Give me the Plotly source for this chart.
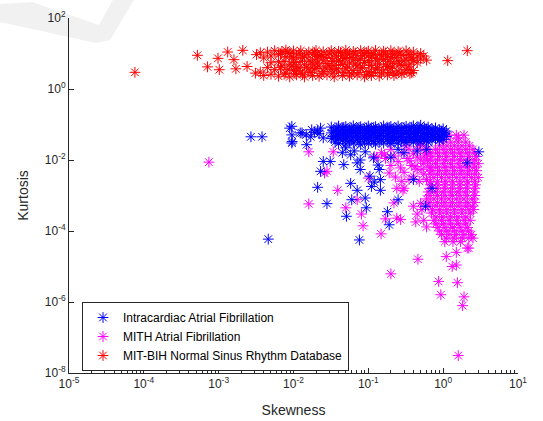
import plotly.graph_objects as go

# ---------------- data ----------------
# Intracardiac Atrial Fibrillation (blue)
intra_skew = [
    # main band
    0.032, 0.032, 0.032, 0.036, 0.036, 0.036, 0.040, 0.040, 0.040, 0.040,
    0.045, 0.045, 0.045, 0.050, 0.050, 0.050, 0.050, 0.056, 0.056, 0.056,
    0.063, 0.063, 0.063, 0.063, 0.071, 0.071, 0.071, 0.079, 0.079, 0.079, 0.079,
    0.089, 0.089, 0.089, 0.10, 0.10, 0.10, 0.10, 0.11, 0.11, 0.11,
    0.125, 0.125, 0.125, 0.125, 0.14, 0.14, 0.14, 0.16, 0.16, 0.16, 0.16,
    0.18, 0.18, 0.18, 0.20, 0.20, 0.20, 0.20, 0.22, 0.22, 0.22,
    0.25, 0.25, 0.25, 0.25, 0.28, 0.28, 0.28, 0.32, 0.32, 0.32, 0.32,
    0.36, 0.36, 0.36, 0.40, 0.40, 0.40, 0.40, 0.45, 0.45, 0.45,
    0.50, 0.50, 0.50, 0.50, 0.56, 0.56, 0.56, 0.63, 0.63, 0.63, 0.63,
    0.71, 0.71, 0.71, 0.79, 0.79, 0.79, 0.89, 0.89, 0.89, 1.0, 1.0, 1.0, 1.1, 1.1,
    # band, in-between columns
    0.034, 0.034, 0.038, 0.038, 0.038, 0.042, 0.042, 0.047, 0.047, 0.047,
    0.053, 0.053, 0.059, 0.059, 0.059, 0.067, 0.067, 0.075, 0.075, 0.075,
    0.084, 0.084, 0.095, 0.095, 0.095, 0.105, 0.105, 0.118, 0.118, 0.118,
    0.132, 0.132, 0.15, 0.15, 0.15, 0.17, 0.17, 0.19, 0.19, 0.19,
    0.21, 0.21, 0.235, 0.235, 0.235, 0.265, 0.265, 0.30, 0.30, 0.30,
    0.34, 0.34, 0.38, 0.38, 0.38, 0.425, 0.425, 0.475, 0.475, 0.475,
    0.53, 0.53, 0.60, 0.60, 0.60, 0.67, 0.67, 0.75, 0.75, 0.84, 0.84,
    0.95, 0.95, 1.05,
    # left cluster
    0.0027, 0.0038, 0.0089, 0.0095, 0.0095, 0.0095, 0.0096, 0.0123, 0.013, 0.0148,
    0.015, 0.0175, 0.019, 0.021, 0.023, 0.025, 0.022, 0.017,
    # scattered
    0.0046, 0.025, 0.031, 0.023, 0.047, 0.058, 0.071, 0.078, 0.058, 0.071, 0.021,
    0.028, 0.060, 0.091, 0.094, 0.051, 0.076, 0.105, 0.11, 0.145, 0.145, 0.14,
    0.18, 0.19, 0.25, 0.045, 0.091, 0.117, 0.078, 0.40, 0.71, 0.58, 2.1, 3.0,
    0.12, 0.135, 0.05, 0.065, 0.20, 0.30, 0.25, 0.45, 0.60,
]
intra_kurt = [
    0.085, 0.058, 0.040, 0.070, 0.048, 0.032, 0.090, 0.062, 0.043, 0.029,
    0.075, 0.052, 0.036, 0.088, 0.060, 0.041, 0.028, 0.072, 0.050, 0.034,
    0.092, 0.064, 0.044, 0.030, 0.078, 0.054, 0.037, 0.086, 0.059, 0.040, 0.027,
    0.073, 0.050, 0.034, 0.090, 0.063, 0.043, 0.029, 0.076, 0.053, 0.036,
    0.087, 0.060, 0.041, 0.028, 0.072, 0.049, 0.033, 0.091, 0.064, 0.044, 0.030,
    0.079, 0.055, 0.037, 0.088, 0.061, 0.042, 0.029, 0.074, 0.051, 0.035,
    0.090, 0.062, 0.043, 0.030, 0.077, 0.054, 0.037, 0.089, 0.061, 0.042, 0.031,
    0.075, 0.052, 0.036, 0.092, 0.063, 0.044, 0.032, 0.078, 0.055, 0.038,
    0.095, 0.066, 0.045, 0.033, 0.080, 0.056, 0.039, 0.085, 0.060, 0.042, 0.032,
    0.075, 0.052, 0.037, 0.080, 0.057, 0.040, 0.070, 0.050, 0.036, 0.075, 0.053, 0.038, 0.065, 0.046,
    0.066, 0.046, 0.080, 0.055, 0.037, 0.068, 0.048, 0.083, 0.057, 0.039,
    0.066, 0.045, 0.080, 0.056, 0.036, 0.069, 0.047, 0.083, 0.057, 0.032,
    0.066, 0.045, 0.080, 0.055, 0.038, 0.068, 0.047, 0.082, 0.056, 0.033,
    0.066, 0.045, 0.080, 0.055, 0.038, 0.069, 0.047, 0.083, 0.057, 0.033,
    0.066, 0.045, 0.080, 0.056, 0.038, 0.068, 0.046, 0.082, 0.056, 0.034,
    0.067, 0.046, 0.083, 0.057, 0.039, 0.068, 0.047, 0.085, 0.059, 0.035,
    0.070, 0.048, 0.075, 0.052, 0.036, 0.066, 0.045, 0.068, 0.046, 0.062, 0.043,
    0.065, 0.045, 0.058,
    0.045, 0.045, 0.079, 0.089, 0.051, 0.030, 0.033, 0.058, 0.058, 0.051,
    0.027, 0.071, 0.060, 0.066, 0.079, 0.042, 0.055, 0.045,
    5.9e-5, 0.0091, 0.0091, 0.0048, 0.0074, 0.014, 0.0083, 0.0054, 0.0022, 0.0014, 0.0017,
    0.00059, 0.00076, 0.00085, 0.00045, 0.00026, 5.6e-5, 0.0035, 0.0018, 0.0028, 0.0014, 0.0054,
    0.00035, 0.00015, 0.00076, 0.016, 0.017, 0.0115, 0.010, 0.0028, 0.0016, 0.0005, 0.0083, 0.017,
    0.0024, 0.0072, 0.022, 0.018, 0.012, 0.016, 0.020, 0.018, 0.020,
]

# MITH Atrial Fibrillation (magenta)
mith_skew = [
    # dense blob, rows
    1.2, 1.5, 1.9, 1.6,
    1.0, 1.26, 1.58, 2.0, 0.5,
    0.63, 0.79, 1.0, 1.26, 1.58, 2.0, 2.5,
    0.71, 0.89, 1.12, 1.41, 1.78, 2.24, 2.8,
    0.79, 1.0, 1.26, 1.58, 2.0, 2.5, 2.95,
    0.71, 0.89, 1.12, 1.41, 1.78, 2.24, 2.8,
    0.75, 0.95, 1.2, 1.5, 1.9, 2.4, 2.95,
    0.68, 0.85, 1.06, 1.33, 1.68, 2.1, 2.7,
    0.63, 0.8, 1.0, 1.26, 1.58, 2.0, 2.6,
    0.6, 0.75, 0.95, 1.2, 1.5, 1.9, 2.5,
    0.63, 0.8, 1.0, 1.26, 1.58, 2.0, 2.45,
    0.7, 0.9, 1.12, 1.41, 1.78, 2.3,
    0.75, 0.95, 1.2, 1.5, 1.9, 2.3,
    0.85, 1.06, 1.33, 1.68, 2.1,
    0.95, 1.2, 1.5, 1.9, 2.4,
    1.05, 1.35, 1.7,
    # dense blob, in-between rows
    0.89, 1.12, 1.41, 1.78, 2.24,
    0.67, 0.84, 1.06, 1.33, 1.68, 2.1, 2.65,
    0.67, 0.84, 1.06, 1.33, 1.68, 2.1, 2.65,
    0.67, 0.84, 1.06, 1.33, 1.68, 2.1, 2.65,
    0.67, 0.84, 1.06, 1.33, 1.68, 2.1, 2.65,
    0.67, 0.84, 1.06, 1.33, 1.68, 2.1, 2.65,
    0.67, 0.84, 1.06, 1.33, 1.68, 2.1, 2.65,
    0.67, 0.84, 1.06, 1.33, 1.68, 2.1, 2.65,
    0.67, 0.84, 1.06, 1.33, 1.68, 2.1, 2.65,
    0.72, 0.9, 1.12, 1.41, 1.78, 2.2, 2.55,
    0.8, 1.0, 1.26, 1.58, 2.0,
    0.8, 1.0, 1.26, 1.58, 2.0,
    0.9, 1.12, 1.41, 1.78, 2.2,
    1.1, 1.4, 1.8, 2.2,
    # left lobe
    0.40, 0.45, 0.50, 0.43, 0.55, 0.60, 0.52,
    # mixed region below the blue band
    0.30, 0.35, 0.42, 0.45, 0.50, 0.55, 0.60, 0.38, 0.33, 0.28, 0.25, 0.22, 0.20,
    0.17, 0.15, 0.30, 0.40, 0.48, 0.55, 0.60, 0.65, 0.27, 0.35, 0.45, 0.20, 0.13, 0.49,
    0.32, 0.40, 0.50, 0.58, 0.45, 0.36, 0.42, 0.52, 0.62, 0.56,
    # scattered
    7.4e-4, 0.016, 0.034, 0.026, 0.028, 0.039, 0.016, 0.050, 0.071, 0.081, 0.085,
    0.148, 0.10, 0.12, 0.165, 0.24, 0.22, 0.17, 0.24, 0.27, 0.29, 0.28, 0.19, 0.23,
    0.46, 0.20, 0.87, 1.55, 0.93, 1.9, 1.82, 1.59, 1.1, 1.32, 1.5, 2.1, 1.5, 2.5, 2.2, 0.30,
]
mith_kurt = [
    0.05, 0.05, 0.05, 0.042,
    0.032, 0.032, 0.032, 0.032, 0.030,
    0.02, 0.02, 0.02, 0.02, 0.02, 0.02, 0.02,
    0.0126, 0.0126, 0.0126, 0.0126, 0.0126, 0.0126, 0.0126,
    0.0079, 0.0079, 0.0079, 0.0079, 0.0079, 0.0079, 0.0079,
    0.005, 0.005, 0.005, 0.005, 0.005, 0.005, 0.005,
    0.0032, 0.0032, 0.0032, 0.0032, 0.0032, 0.0032, 0.0032,
    0.002, 0.002, 0.002, 0.002, 0.002, 0.002, 0.002,
    0.00126, 0.00126, 0.00126, 0.00126, 0.00126, 0.00126, 0.00126,
    0.0008, 0.0008, 0.0008, 0.0008, 0.0008, 0.0008, 0.0008,
    0.0005, 0.0005, 0.0005, 0.0005, 0.0005, 0.0005, 0.0005,
    0.00032, 0.00032, 0.00032, 0.00032, 0.00032, 0.00032,
    0.0002, 0.0002, 0.0002, 0.0002, 0.0002, 0.0002,
    0.000126, 0.000126, 0.000126, 0.000126, 0.000126,
    7.9e-5, 7.9e-5, 7.9e-5, 7.9e-5, 7.9e-5,
    5e-5, 5e-5, 5e-5,
    0.025, 0.025, 0.025, 0.025, 0.025,
    0.0158, 0.0158, 0.0158, 0.0158, 0.0158, 0.0158, 0.0158,
    0.010, 0.010, 0.010, 0.010, 0.010, 0.010, 0.010,
    0.0063, 0.0063, 0.0063, 0.0063, 0.0063, 0.0063, 0.0063,
    0.004, 0.004, 0.004, 0.004, 0.004, 0.004, 0.004,
    0.0025, 0.0025, 0.0025, 0.0025, 0.0025, 0.0025, 0.0025,
    0.0016, 0.0016, 0.0016, 0.0016, 0.0016, 0.0016, 0.0016,
    0.001, 0.001, 0.001, 0.001, 0.001, 0.001, 0.001,
    0.00063, 0.00063, 0.00063, 0.00063, 0.00063, 0.00063, 0.00063,
    0.0004, 0.0004, 0.0004, 0.0004, 0.0004, 0.0004, 0.0004,
    0.00025, 0.00025, 0.00025, 0.00025, 0.00025,
    0.000158, 0.000158, 0.000158, 0.000158, 0.000158,
    1.0e-4, 1.0e-4, 1.0e-4, 1.0e-4, 1.0e-4,
    6.3e-5, 6.3e-5, 6.3e-5, 6.3e-5,
    0.0005, 0.0003, 0.0006, 0.00018, 0.0002, 0.00013, 0.0004,
    0.035, 0.02, 0.045, 0.012, 0.025, 0.008, 0.015, 0.007, 0.011, 0.016, 0.009, 0.013, 0.02,
    0.011, 0.016, 0.0045, 0.0035, 0.0025, 0.004, 0.0028, 0.006, 0.006, 0.0028, 0.0055, 0.007, 0.012, 0.030,
    0.025, 0.015, 0.010, 0.019, 0.020, 0.0095, 0.0065, 0.0055, 0.0095, 0.013,
    0.0087, 0.017, 0.017, 0.0043, 0.0048, 0.0014, 0.00058, 0.00045, 0.00076, 0.0003, 0.00014,
    8.3e-5, 0.0031, 0.0126, 0.014, 0.0016, 0.00062, 0.00022, 0.00023, 0.00021, 0.0014, 0.0025, 0.0043, 0.0033,
    1.6e-5, 6.2e-6, 3.8e-6, 3.5e-6, 1.6e-6, 1.4e-6, 7.9e-7, 3.1e-8, 1.9e-5, 1.0e-5, 1.1e-5, 3.3e-5, 2.5e-5, 6.3e-5, 3.3e-5, 0.0016,
]

# MIT-BIH Normal Sinus Rhythm Database (red)
nsr_skew = [
    7.6e-5, 5.2e-4, 7.1e-4, 9.8e-4, 1.02e-3, 1.32e-3, 1.6e-3, 1.7e-3, 2.1e-3, 2.4e-3,
    3.2e-3, 3.1e-3, 0.6, 1.15, 2.1,
    0.0036, 0.0036, 0.0040, 0.0040, 0.0045, 0.0045, 0.0050, 0.0050, 0.0050,
    0.0056, 0.0056, 0.0063, 0.0063, 0.0063, 0.0070, 0.0070, 0.0079, 0.0079, 0.0079,
    0.0089, 0.0089, 0.0089, 0.010, 0.010, 0.010, 0.011, 0.011, 0.011,
    0.0125, 0.0125, 0.0125, 0.014, 0.014, 0.014, 0.016, 0.016, 0.016,
    0.018, 0.018, 0.018, 0.020, 0.020, 0.020, 0.022, 0.022, 0.022,
    0.025, 0.025, 0.025, 0.028, 0.028, 0.028, 0.032, 0.032, 0.032,
    0.035, 0.035, 0.035, 0.040, 0.040, 0.040, 0.045, 0.045, 0.045,
    0.050, 0.050, 0.050, 0.056, 0.056, 0.056, 0.063, 0.063, 0.063,
    0.071, 0.071, 0.071, 0.079, 0.079, 0.079, 0.089, 0.089, 0.089,
    0.10, 0.10, 0.10, 0.11, 0.11, 0.11, 0.125, 0.125, 0.125,
    0.14, 0.14, 0.14, 0.16, 0.16, 0.16, 0.18, 0.18, 0.18,
    0.20, 0.20, 0.20, 0.22, 0.22, 0.22, 0.25, 0.25, 0.25,
    0.28, 0.28, 0.28, 0.32, 0.32, 0.32, 0.36, 0.36, 0.36,
    0.40, 0.40, 0.40, 0.45, 0.45, 0.50, 0.50, 0.55,
    # in-between columns
    0.0067, 0.0067, 0.0075, 0.0075, 0.0084, 0.0084, 0.0095, 0.0095, 0.0105, 0.0105,
    0.0118, 0.0118, 0.0132, 0.0132, 0.015, 0.015, 0.017, 0.017, 0.019, 0.019,
    0.021, 0.021, 0.0235, 0.0235, 0.0265, 0.0265, 0.030, 0.030, 0.0335, 0.0335,
    0.0375, 0.0375, 0.0425, 0.0425, 0.0475, 0.0475, 0.053, 0.053, 0.060, 0.060,
    0.067, 0.067, 0.075, 0.075, 0.084, 0.084, 0.095, 0.095, 0.105, 0.105,
    0.118, 0.118, 0.132, 0.132, 0.15, 0.15, 0.17, 0.17, 0.19, 0.19,
    0.21, 0.21, 0.235, 0.235, 0.265, 0.265, 0.30, 0.30, 0.34, 0.34, 0.38, 0.38,
]
nsr_kurt = [
    2.95, 8.9, 4.2, 7.3, 3.5, 11.0, 6.7, 3.7, 12.3, 4.3,
    9.3, 2.8, 6.5, 6.3, 12.0,
    10.5, 3.0, 7.5, 2.4, 11.0, 4.0, 8.5, 2.6, 5.5,
    12.0, 3.5, 9.5, 6.0, 2.3, 11.5, 4.5, 8.0, 2.8, 12.5,
    10.0, 5.0, 2.2, 7.0, 3.3, 11.8, 9.0, 4.2, 2.5,
    12.0, 6.0, 3.0, 8.5, 4.8, 2.2, 11.0, 6.5, 3.4,
    9.5, 5.0, 2.4, 12.2, 7.0, 3.8, 8.8, 4.4, 2.3,
    11.2, 6.2, 3.1, 9.2, 5.2, 2.5, 12.0, 7.2, 3.6,
    9.8, 4.6, 2.2, 11.5, 6.4, 3.2, 8.6, 4.9, 2.4,
    12.4, 7.4, 3.7, 9.6, 5.4, 2.3, 11.4, 6.6, 3.3,
    8.9, 4.5, 2.5, 12.1, 7.1, 3.9, 9.9, 5.6, 2.2,
    11.7, 6.3, 3.1, 8.7, 4.7, 2.4, 12.3, 7.3, 3.6,
    9.4, 5.1, 2.3, 11.6, 6.8, 3.4, 8.4, 4.3, 2.5,
    12.0, 7.6, 3.8, 9.7, 5.3, 2.4, 11.3, 6.1, 3.2,
    8.8, 4.6, 2.6, 11.9, 7.0, 3.5, 9.3, 5.0, 2.7,
    11.0, 6.4, 3.3, 8.5, 5.5, 10.0, 7.0, 8.5,
    9.8, 4.0, 6.0, 2.6, 10.8, 3.6, 8.0, 4.4, 5.6, 2.7,
    10.2, 3.9, 7.6, 2.6, 9.6, 4.1, 5.8, 2.9, 10.6, 3.7,
    8.2, 5.4, 9.4, 2.7, 7.8, 3.9, 10.4, 4.4, 6.0, 2.8,
    8.4, 3.8, 10.6, 5.8, 7.2, 2.9, 9.9, 4.2, 7.7, 2.7,
    10.2, 5.0, 6.4, 2.9, 8.6, 4.0, 10.6, 2.6, 7.8, 4.6,
    9.8, 2.9, 6.2, 4.0, 9.0, 2.8, 10.3, 4.8, 6.0, 2.9,
    9.6, 4.2, 7.6, 2.7, 10.4, 5.0, 6.2, 2.9, 9.4, 4.2, 7.6, 2.9,
]

x_tick_vals = [1e-5, 1e-4, 1e-3, 1e-2, 1e-1, 1e0, 1e1]
x_tick_text = ["10<sup>-5</sup>", "10<sup>-4</sup>", "10<sup>-3</sup>", "10<sup>-2</sup>",
               "10<sup>-1</sup>", "10<sup>0</sup>", "10<sup>1</sup>"]
y_tick_vals = [1e-8, 1e-6, 1e-4, 1e-2, 1e0, 1e2]
y_tick_text = ["10<sup>-8</sup>", "10<sup>-6</sup>", "10<sup>-4</sup>", "10<sup>-2</sup>",
               "10<sup>0</sup>", "10<sup>2</sup>"]
x_minor_vals = [m * 10.0 ** e for e in range(-5, 1) for m in range(2, 10)]

series_names = ["Intracardiac Atrial Fibrillation", "MITH Atrial Fibrillation",
                "MIT-BIH Normal Sinus Rhythm Database"]

# ---------------- figure ----------------
W, H = 543, 421
L, R, T, B = 69, 25, 18, 48
pw, ph = W - L - R, H - T - B


def px(xp, yp):
    return (xp - L) / pw, (H - B - yp) / ph


def marker(c):
    return dict(symbol="asterisk-open", size=9, color=c, line=dict(width=1, color=c))


fig = go.Figure()
fig.add_trace(go.Scatter(x=mith_skew, y=mith_kurt, mode="markers", name=series_names[1],
                         marker=marker("#ff00ff"), legendrank=2))
fig.add_trace(go.Scatter(x=intra_skew, y=intra_kurt, mode="markers", name=series_names[0],
                         marker=marker("#0000ff"), legendrank=1))
fig.add_trace(go.Scatter(x=nsr_skew, y=nsr_kurt, mode="markers", name=series_names[2],
                         marker=marker("#ff0000"), legendrank=3))

# faint watermark in the top-left corner
pts = [(0, 4), (0, 22), (96, 43), (110, 40), (134, 0), (113, 0), (99, 25), (32, 2)]
path = "M " + " L ".join(f"{px(a, b)[0]:.4f},{px(a, b)[1]:.4f}" for a, b in pts) + " Z"
fig.add_shape(type="path", path=path, xref="paper", yref="paper",
              fillcolor="#f1f1f1", line=dict(width=0), layer="below")

axis_col = "#262626"
fig.update_layout(
    width=W, height=H,
    margin=dict(l=L, r=R, t=T, b=B, autoexpand=False),
    paper_bgcolor="white", plot_bgcolor="rgba(0,0,0,0)",
    font=dict(family="Liberation Sans, Arial, sans-serif", size=12, color=axis_col),
    showlegend=True,
    legend=dict(x=(82 - L) / pw, y=(H - B - 302) / ph, xanchor="left", yanchor="top",
                bgcolor="white", bordercolor=axis_col, borderwidth=1,
                font=dict(size=12, color="#000000"), tracegroupgap=0),
    xaxis=dict(type="log", range=[-5, 1], tickvals=x_tick_vals, ticktext=x_tick_text,
               automargin=False,
               ticks="inside", ticklen=5, tickcolor=axis_col, showgrid=False, zeroline=False,
               showline=True, linecolor=axis_col, linewidth=1, mirror=False,
               tickfont=dict(size=12, color=axis_col),
               minor=dict(tickvals=x_minor_vals, ticks="inside", ticklen=3, tickcolor=axis_col,
                          showgrid=False),
               title=dict(text="Skewness", font=dict(size=14, color=axis_col), standoff=14)),
    yaxis=dict(type="log", range=[-8, 2], tickvals=y_tick_vals, ticktext=y_tick_text,
               automargin=False,
               ticks="inside", ticklen=5, tickcolor=axis_col, showgrid=False, zeroline=False,
               showline=True, linecolor=axis_col, linewidth=1, mirror=False,
               tickfont=dict(size=12, color=axis_col),
               title=dict(text="Kurtosis", font=dict(size=14, color=axis_col), standoff=12)),
)

fig.write_html("out.html")
